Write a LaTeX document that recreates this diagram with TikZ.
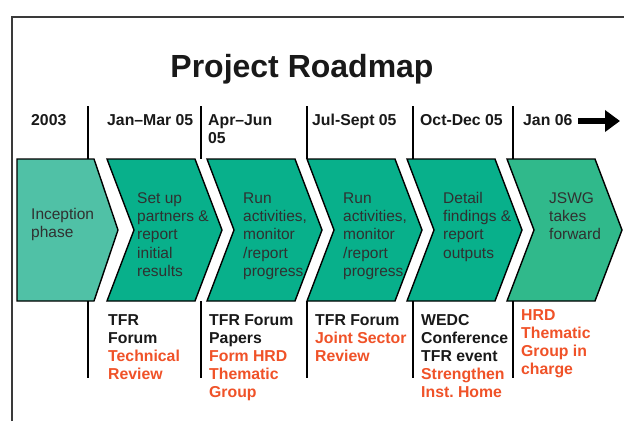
\documentclass[tikz,border=0pt]{standalone}
\usepackage{fontspec}
\setmainfont{Liberation Sans}
\usetikzlibrary{arrows.meta}
\definecolor{chevA}{HTML}{50C1A6}
\definecolor{chevB}{HTML}{08B08B}
\definecolor{chevC}{HTML}{30B98B}
\definecolor{txtgray}{HTML}{303030}
\definecolor{orng}{HTML}{F05228}
\definecolor{framegray}{HTML}{3A3A3A}
\begin{document}
\frenchspacing
\begin{tikzpicture}[x=1pt,y=-1pt,
  chev/.style={draw=black,line width=1.4pt,line join=miter},
  sep/.style={draw=black,line width=1.4pt},
  ctext/.style={font=\fontsize{15.5}{18.3}\selectfont,text=txtgray,align=left,inner sep=0pt,anchor=north west},
  htext/.style={font=\fontsize{15.8}{18}\selectfont\bfseries,text=black!90,align=left,inner sep=0pt,anchor=north west},
  btext/.style={font=\fontsize{15.8}{18}\selectfont\bfseries,text=black!90,align=left,inner sep=0pt,anchor=north west},
  ttext/.style={font=\fontsize{32}{36}\selectfont\bfseries,text=black!90,inner sep=0pt,anchor=base}
]
\useasboundingbox (0,0) rectangle (624,421);
\fill[white] (0,0) rectangle (624,421);
% frame
\draw[framegray,line width=1.2pt] (12,421) -- (12,17) -- (624,17);
% title
\node[ttext] (title) at (302,77) {Project Roadmap};
% chevrons
\filldraw[chev,fill=chevA] (17,159) -- (94,159) -- (118,230) -- (94,301) -- (17,301) -- cycle;
\foreach \L/\R in {107/195,207/295,307/395,407/495}{
  \filldraw[chev,fill=chevB] (\L,159) -- (\R,159) -- (\R+27,230) -- (\R,301) -- (\L,301) -- (\L+27,230) -- cycle;
}
\filldraw[chev,fill=chevC] (507,159) -- (595,159) -- (622,230) -- (595,301) -- (507,301) -- (534,230) -- cycle;
% separators
\foreach \x in {88,201,307,413,513}{
  \draw[sep] (\x,106) -- (\x,159);
  \draw[sep] (\x,301) -- (\x,378);
}
% header texts
\node[htext] (h1) at (31,113) {\rule{0pt}{12pt}2003};
\node[htext] (h2) at (107,113) {\rule{0pt}{12pt}Jan–Mar 05};
\node[htext] (h3) at (208,113) {\rule{0pt}{12pt}Apr–Jun\\05};
\node[htext] (h4) at (312,113) {\rule{0pt}{12pt}Jul-Sept 05};
\node[htext] (h5) at (420,113) {\rule{0pt}{12pt}Oct-Dec 05};
\node[htext] (h6) at (523,113) {\rule{0pt}{12pt}Jan 06};
\coordinate (arrS) at (578,121);
\coordinate (arrE) at (620,121);
\draw[line width=6pt,-{Triangle[length=15pt,width=21pt]}] (arrS) -- (arrE);
% chevron texts
\node[ctext] (c1) at (31,207) {\rule{0pt}{12pt}Inception\\phase};
\node[ctext] (c2) at (137,191) {\rule{0pt}{12pt}Set up\\partners \&\\report\\initial\\results};
\node[ctext] (c3) at (243,191) {\rule{0pt}{12pt}Run\\activities,\\monitor\\/report\\progress};
\node[ctext] (c4) at (343,191) {\rule{0pt}{12pt}Run\\activities,\\monitor\\/report\\progress};
\node[ctext] (c5) at (443,191) {\rule{0pt}{12pt}Detail\\findings \&\\report\\outputs};
\node[ctext] (c6) at (549,191) {\rule{0pt}{12pt}JSWG\\takes\\forward};
% bottom texts
\node[btext] (b1) at (108,313) {\rule{0pt}{12pt}TFR\\Forum\\\textcolor{orng}{Technical}\\\textcolor{orng}{Review}};
\node[btext] (b2) at (209,313) {\rule{0pt}{12pt}TFR Forum\\Papers\\\textcolor{orng}{Form HRD}\\\textcolor{orng}{Thematic}\\\textcolor{orng}{Group}};
\node[btext] (b3) at (315,313) {\rule{0pt}{12pt}TFR Forum\\\textcolor{orng}{Joint Sector}\\\textcolor{orng}{Review}};
\node[btext] (b4) at (421,313) {\rule{0pt}{12pt}WEDC\\Conference\\TFR event\\\textcolor{orng}{Strengthen}\\\textcolor{orng}{Inst. Home}};
\node[btext,text=orng] (b5) at (521,308) {\rule{0pt}{12pt}HRD\\Thematic\\Group in\\charge};
\end{tikzpicture}
\end{document}
